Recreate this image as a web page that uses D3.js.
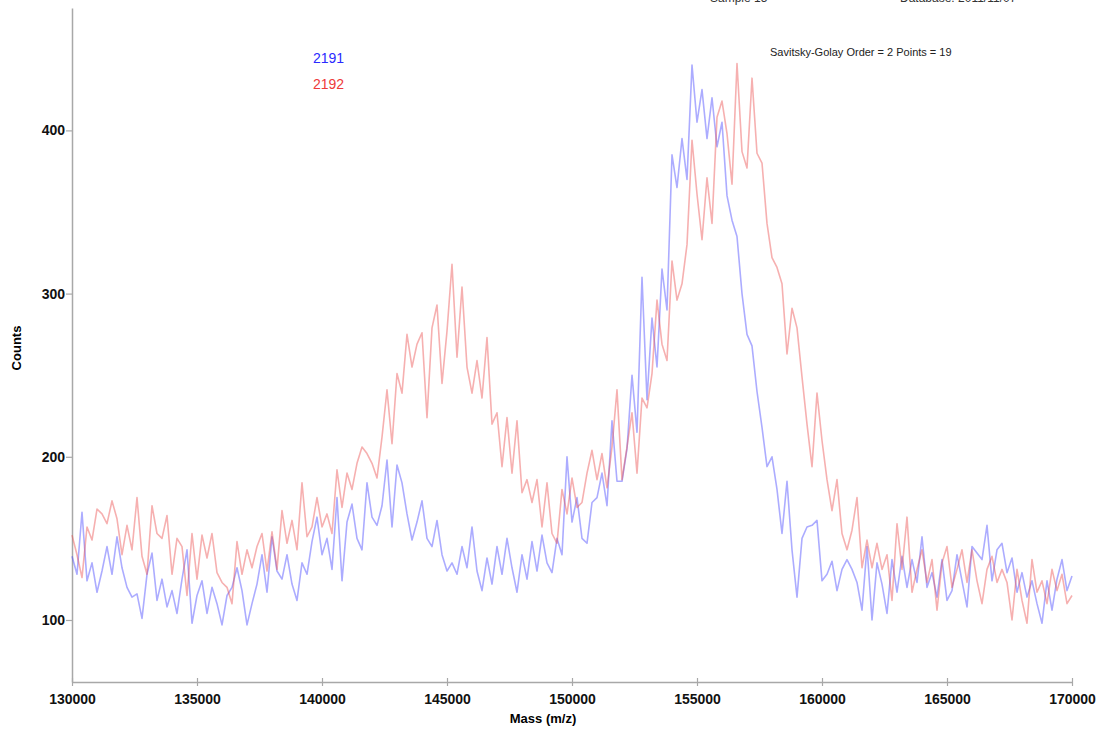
<!DOCTYPE html>
<html>
<head>
<meta charset="utf-8">
<script src="https://cdn.jsdelivr.net/npm/d3@7"></script>
<style>
	body { margin: 0; background: #fff; }
	svg { display: block; font-family: "Liberation Sans", Arial, sans-serif; }
</style>
</head>
<body>
<svg></svg>
<script>
// ========================= DATA =========================

const massStart = 130000;
const massStep = 200;

const seriesNames = ["2191", "2192"];
const seriesColors = ["rgb(70,70,255)", "rgb(235,80,80)"];
const labelColors = ["#2a2aff", "#ee3a3a"];

const counts2191 = [
	139, 128, 166, 124, 135, 117, 130, 145, 128, 151,
	132, 120, 114, 116, 101, 128, 141, 112, 125, 108,
	118, 104, 125, 143, 98, 115, 124, 104, 120, 110,
	97, 115, 120, 132, 118, 97, 110, 122, 140, 117,
	151, 130, 125, 140, 122, 112, 135, 128, 148, 163,
	140, 150, 131, 175, 124, 160, 171, 150, 143, 184,
	163, 158, 170, 198, 157, 195, 184, 165, 149, 160,
	173, 150, 145, 161, 140, 130, 135, 128, 145, 132,
	157, 130, 118, 138, 122, 145, 128, 150, 132, 117,
	140, 125, 148, 130, 152, 135, 129, 150, 140, 200,
	160, 175, 150, 147, 172, 175, 190, 170, 222, 185,
	185, 205, 250, 215, 310, 235, 285, 255, 315, 290,
	385, 365, 395, 370, 440, 405, 425, 395, 420, 390,
	405, 360, 345, 335, 300, 275, 268, 240, 218, 194,
	200, 180, 153, 185, 143, 114, 150, 157, 158, 161,
	124, 128, 136, 118, 131, 137, 131, 123, 106, 145,
	100, 135, 122, 104, 137, 117, 139, 120, 137, 123,
	151, 120, 129, 114, 137, 112, 118, 140, 124, 108,
	145, 141, 137, 158, 124, 143, 147, 129, 138, 117,
	129, 114, 124, 110, 98, 124, 106, 125, 137, 118,
	127
];

const counts2192 = [
	152, 140, 126, 157, 149, 168, 165, 159, 173, 162,
	140, 158, 143, 175, 139, 128, 170, 153, 150, 164,
	128, 150, 145, 115, 153, 125, 152, 138, 153, 129,
	123, 120, 110, 148, 128, 143, 132, 145, 153, 130,
	154, 131, 167, 147, 161, 143, 184, 151, 157, 175,
	157, 165, 153, 192, 169, 190, 180, 196, 206, 202,
	196, 187, 212, 241, 208, 251, 239, 275, 255, 269,
	276, 224, 279, 293, 245, 277, 318, 261, 304, 255,
	239, 259, 236, 273, 220, 227, 194, 224, 190, 222,
	178, 186, 172, 186, 157, 184, 153, 147, 180, 165,
	187, 169, 172, 190, 204, 186, 202, 181, 206, 241,
	186, 206, 227, 190, 236, 230, 251, 296, 269, 259,
	320, 296, 306, 330, 394, 361, 333, 371, 343, 408,
	418, 398, 367, 441, 387, 377, 432, 386, 380, 343,
	322, 316, 306, 263, 291, 279, 249, 220, 194, 239,
	210, 186, 167, 186, 153, 143, 155, 175, 132, 149,
	132, 147, 131, 140, 112, 159, 131, 163, 117, 131,
	143, 123, 137, 106, 135, 145, 120, 131, 143, 123,
	143, 124, 110, 131, 139, 123, 131, 123, 100, 131,
	112, 98, 137, 117, 124, 110, 131, 118, 128, 110,
	115
];

const xTicks = [130000, 135000, 140000, 145000, 150000, 155000, 160000, 165000, 170000];
const yTicks = [100, 200, 300, 400];

// ========================= CHART =========================

const width = 1100;
const height = 730;
const svg = d3.select("svg").attr("width", width).attr("height", height);

const x = d3.scaleLinear().domain([130000, 170000]).range([72, 1072]);
const y = d3.scaleLinear().domain([62, 475]).range([682, 8]);

const axisColor = "#a8a8a8";

// x axis
const xAxis = svg.append("g")
	.attr("transform", "translate(0,682)")
	.call(d3.axisBottom(x).tickValues(xTicks).tickFormat(d3.format("d")).tickSize(4).tickSizeOuter(0));
xAxis.select(".domain").attr("stroke", axisColor).attr("stroke-width", 1.5);
xAxis.selectAll(".tick line").attr("stroke", axisColor).attr("stroke-width", 1.2).attr("y1", -4);
xAxis.selectAll(".tick text")
	.attr("y", 12)
	.attr("font-size", 14)
	.attr("font-weight", "bold")
	.attr("font-family", "'Liberation Sans', Arial, sans-serif")
	.attr("fill", "#111");

// y axis
const yAxis = svg.append("g")
	.attr("transform", "translate(72,0)")
	.call(d3.axisLeft(y).tickValues(yTicks).tickSize(6).tickSizeOuter(0));
yAxis.select(".domain").attr("stroke", axisColor).attr("stroke-width", 1.5);
yAxis.selectAll(".tick line").attr("stroke", axisColor).attr("stroke-width", 1.2);
yAxis.selectAll(".tick text")
	.attr("x", -7)
	.attr("font-size", 14)
	.attr("font-weight", "bold")
	.attr("font-family", "'Liberation Sans', Arial, sans-serif")
	.attr("fill", "#111");

// axis titles
svg.append("text")
	.attr("x", 543)
	.attr("y", 723)
	.attr("text-anchor", "middle")
	.attr("font-size", 13)
	.attr("font-weight", "bold")
	.text("Mass (m/z)");

svg.append("text")
	.attr("transform", "translate(21,348) rotate(-90)")
	.attr("text-anchor", "middle")
	.attr("font-size", 13)
	.attr("font-weight", "bold")
	.text("Counts");

// spectra
const line = d3.line()
	.x((d, i) => x(massStart + i * massStep))
	.y((d) => y(d));

[counts2191, counts2192].forEach((counts, i) => {
	svg.append("path")
		.datum(counts)
		.attr("fill", "none")
		.attr("stroke", seriesColors[i])
		.attr("stroke-opacity", 0.45)
		.attr("stroke-width", 1.6)
		.attr("stroke-linejoin", "round")
		.attr("d", line);
});

// legend
seriesNames.forEach((name, i) => {
	svg.append("text")
		.attr("x", 313)
		.attr("y", 63 + i * 26)
		.attr("font-size", 14)
		.attr("fill", labelColors[i])
		.text(name);
});

// header notes
svg.append("text")
	.attr("x", 770)
	.attr("y", 56)
	.attr("font-size", 11)
	.attr("fill", "#222")
	.text("Savitsky-Golay Order = 2 Points = 19");

svg.append("text")
	.attr("x", 710)
	.attr("y", 2)
	.attr("font-size", 12)
	.attr("fill", "#333")
	.text("Sample 15");

svg.append("text")
	.attr("x", 900)
	.attr("y", 2)
	.attr("font-size", 12)
	.attr("fill", "#333")
	.text("Database: 2011/11/07");
</script>
</body>
</html>
